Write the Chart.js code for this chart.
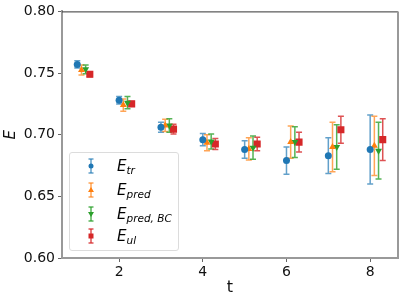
<!DOCTYPE html>
<html>
<head>
    <meta charset="utf-8">
    <script src="https://cdn.jsdelivr.net/npm/chart.js"></script>
    <style>
        body { margin: 0; background: #fff; }
        #wrap { position: relative; width: 407px; height: 301px; }
        #legend {
            position: absolute; left: 69px; top: 152px; width: 108px; height: 97px;
            border: 1px solid #dcdcdc; border-radius: 3px; background: rgba(255,255,255,0.8);
            font-family: "DejaVu Sans", sans-serif; color: #000;
        }
        .row { position: absolute; left: 0; height: 20px; width: 108px; }
        .row svg { position: absolute; left: 14px; top: 0; }
        .lab { position: absolute; left: 47px; top: 0; font-size: 15px; font-style: italic; line-height: 20px; white-space: nowrap; }
        .lab sub { font-size: 10.5px; vertical-align: -3px; }
    </style>
</head>
<body>
<div id="wrap">
    <canvas id="chart" width="407" height="301"></canvas>
    <div id="legend"></div>
</div>
<script>
    // t values and the small x offsets used in the plot
    var tVals = [1, 2, 3, 4, 5, 6, 7, 8];
    var xTicks = [2, 4, 6, 8];

    var eTr = [0.757, 0.728, 0.706, 0.696, 0.688, 0.679, 0.683, 0.688];
    var eTrErr = [0.003, 0.003, 0.004, 0.005, 0.007, 0.011, 0.0145, 0.028];

    var ePred = [0.7525, 0.724, 0.7075, 0.6935, 0.6885, 0.694, 0.690, 0.691];
    var ePredErr = [0.004, 0.005, 0.005, 0.0065, 0.009, 0.013, 0.020, 0.024];

    var ePredBC = [0.753, 0.726, 0.7075, 0.6945, 0.6895, 0.694, 0.690, 0.687];
    var ePredBCErr = [0.0035, 0.005, 0.0055, 0.006, 0.0095, 0.0125, 0.018, 0.023];

    var eUl = [0.749, 0.725, 0.7045, 0.6925, 0.6925, 0.694, 0.704, 0.696];
    var eUlErr = [0.002, 0.002, 0.004, 0.0045, 0.0055, 0.008, 0.011, 0.017];

    var series = [
        { name: 'E', sub: 'tr', vals: eTr, errs: eTrErr, off: 0, color: '#1f77b4', err: 'rgba(31,119,180,0.7)', style: 'circle', r: 3.5, rot: 0 },
        { name: 'E', sub: 'pred', vals: ePred, errs: ePredErr, off: 0.1, color: '#ff7f0e', err: 'rgba(255,127,14,0.7)', style: 'triangle', r: 4, rot: 0 },
        { name: 'E', sub: 'pred, BC', vals: ePredBC, errs: ePredBCErr, off: 0.2, color: '#2ca02c', err: 'rgba(44,160,44,0.8)', style: 'triangle', r: 4, rot: 180 },
        { name: 'E', sub: 'ul', vals: eUl, errs: eUlErr, off: 0.3, color: '#d62728', err: 'rgba(214,39,40,0.8)', style: 'rect', r: 5, rot: 0 }
    ];

    var datasets = series.map(function (s) {
        return {
            label: s.name + '_' + s.sub,
            data: tVals.map(function (t, i) {
                return { x: t + s.off, y: s.vals[i], err: s.errs[i] };
            }),
            pointStyle: s.style,
            pointRadius: s.r,
            rotation: s.rot,
            backgroundColor: s.color,
            borderColor: s.color,
            borderWidth: 0,
            errColor: s.err,
            showLine: false
        };
    });

    // error bars drawn under the markers
    var errorBars = {
        id: 'errorBars',
        beforeDatasetsDraw: function (chart) {
            var ctx = chart.ctx, x = chart.scales.x, y = chart.scales.y;
            chart.data.datasets.forEach(function (ds) {
                ctx.save();
                ctx.strokeStyle = ds.errColor;
                ctx.lineWidth = 1.5;
                ds.data.forEach(function (p) {
                    var px = x.getPixelForValue(p.x);
                    var y0 = y.getPixelForValue(p.y - p.err);
                    var y1 = y.getPixelForValue(p.y + p.err);
                    ctx.beginPath();
                    ctx.moveTo(px, y0); ctx.lineTo(px, y1);
                    ctx.moveTo(px - 3, y0); ctx.lineTo(px + 3, y0);
                    ctx.moveTo(px - 3, y1); ctx.lineTo(px + 3, y1);
                    ctx.stroke();
                });
                ctx.restore();
            });
        },
        afterDraw: function (chart) {
            var ctx = chart.ctx, a = chart.chartArea;
            ctx.save();
            ctx.strokeStyle = '#333';
            ctx.lineWidth = 1;
            ctx.beginPath();
            ctx.moveTo(a.left, a.top + 0.5); ctx.lineTo(a.right, a.top + 0.5);
            ctx.stroke();
            ctx.strokeStyle = '#999';
            ctx.lineWidth = 2;
            ctx.beginPath();
            ctx.moveTo(a.right, a.top); ctx.lineTo(a.right, a.bottom);
            ctx.stroke();
            ctx.restore();
        }
    };

    var tickFont = { family: 'DejaVu Sans', size: 14 };

    new Chart(document.getElementById('chart'), {
        type: 'scatter',
        data: { datasets: datasets },
        plugins: [errorBars],
        options: {
            responsive: false,
            animation: false,
            layout: { padding: { top: 11, right: 9, left: 0, bottom: 0 } },
            plugins: { legend: { display: false }, tooltip: { enabled: false } },
            scales: {
                x: {
                    type: 'linear', min: 0.635, max: 8.665,
                    afterBuildTicks: function (s) { s.ticks = xTicks.map(function (v) { return { value: v }; }); },
                    afterFit: function (s) { s.height = 43; },
                    ticks: { font: tickFont, color: '#111', padding: 2, maxRotation: 0 },
                    grid: { drawOnChartArea: false, tickLength: 4, color: '#666' },
                    border: { color: '#999', width: 2 },
                    title: { display: true, text: 't', font: { family: 'DejaVu Sans', size: 16 }, color: '#111', padding: { top: 0, bottom: 4 } }
                },
                y: {
                    min: 0.6, max: 0.8,
                    afterFit: function (s) { s.width = 62; },
                    ticks: { stepSize: 0.05, font: tickFont, color: '#111', padding: 3, callback: function (v) { return v.toFixed(2); } },
                    grid: { drawOnChartArea: false, tickLength: 4, color: '#666' },
                    border: { color: '#999', width: 2 },
                    title: { display: true, text: 'E', font: { family: 'DejaVu Sans', size: 15, style: 'italic' }, color: '#111', padding: { top: 2, bottom: 0 } }
                }
            }
        }
    });

    // legend with subscripts
    var rowsY = [3, 27, 51, 73];
    var legend = document.getElementById('legend');
    series.forEach(function (s, i) {
        var marker;
        if (s.style === 'circle') marker = '<circle cx="7" cy="10" r="2.5" fill="' + s.color + '"/>';
        else if (s.style === 'rect') marker = '<rect x="4.5" y="7.5" width="5" height="5" fill="' + s.color + '"/>';
        else if (s.rot) marker = '<polygon points="4,8 10,8 7,13" fill="' + s.color + '"/>';
        else marker = '<polygon points="4,12 10,12 7,7" fill="' + s.color + '"/>';
        var svg = '<svg width="14" height="20"><g stroke="' + s.err + '" stroke-width="1.5">' +
            '<line x1="7" y1="3" x2="7" y2="17"/><line x1="4.5" y1="3" x2="9.5" y2="3"/><line x1="4.5" y1="17" x2="9.5" y2="17"/></g>' +
            marker + '</svg>';
        var row = document.createElement('div');
        row.className = 'row';
        row.style.top = rowsY[i] + 'px';
        row.innerHTML = svg + '<span class="lab">' + s.name + '<sub>' + s.sub + '</sub></span>';
        legend.appendChild(row);
    });
</script>
</body>
</html>
